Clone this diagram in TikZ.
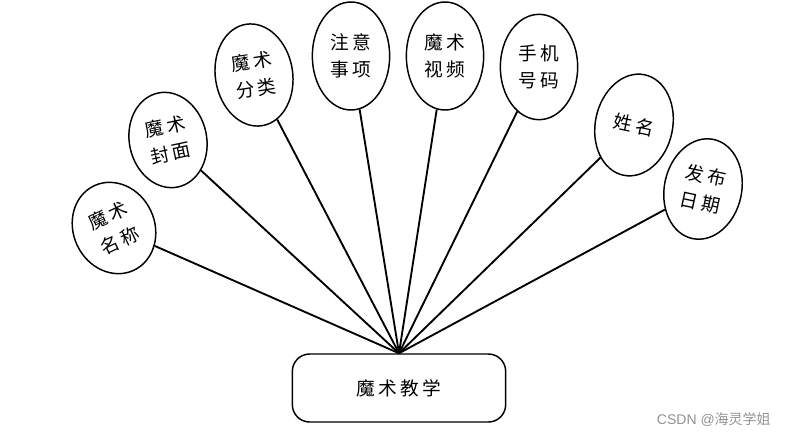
\documentclass[tikz,border=0pt]{standalone}
\usepackage{fontspec}
\setmainfont{Liberation Serif}
\newfontfamily\cjk[LetterSpace=18]{Noto Sans CJK SC}
\newfontfamily\cjkplain{Noto Sans CJK SC}
\newfontfamily\wmfont{Liberation Sans}
\usetikzlibrary{shapes.geometric}
\begin{document}
\begin{tikzpicture}[x=0.75pt,y=-0.75pt,
  attr/.style={draw=black,line width=1.1pt,ellipse,inner sep=0pt,
    minimum width=58pt,minimum height=78pt,align=center,
    font=\cjk\fontsize{14pt}{20.5pt}\selectfont},
  link/.style={line width=1.4pt,draw=black},
  entity/.style={draw=black,line width=1.1pt,rounded corners=13pt,
    minimum width=160pt,minimum height=51pt,inner sep=0pt,
    font=\cjk\fontsize{14pt}{20pt}\selectfont}]
\path[use as bounding box,fill=white] (0,0) rectangle (787,439);
\node[entity] (main) at (399,388) {魔术教学};
\node[attr,rotate=25,minimum width=61pt,minimum height=70pt] (a1) at (114,228) {魔术\\名称};
\node[attr,rotate=12,minimum height=72pt] (a2) at (168,140) {魔术\\封面};
\node[attr,rotate=9,minimum height=77pt] (a3) at (254,75) {魔术\\分类};
\node[attr,minimum height=81pt] (a4) at (351,56) {注意\\事项};
\node[attr,minimum height=81pt] (a5) at (445,56) {魔术\\视频};
\node[attr,minimum height=79pt] (a6) at (539,67) {手机\\号码};
\node[attr,rotate=-12,minimum height=77pt] (a7) at (634,125) {姓名};
\node[attr,rotate=-12,minimum height=76pt] (a8) at (703,189) {发布\\日期};
\foreach \n in {a1,a2,a3,a4,a5,a6,a7,a8}
  \draw[link] (main.north) -- (\n);
\node[text=gray!85,anchor=east,inner sep=0pt] (wm) at (771,420)
  {\wmfont\fontsize{10.5pt}{12pt}\selectfont CSDN @\cjkplain 海灵学姐};
\end{tikzpicture}
\end{document}
